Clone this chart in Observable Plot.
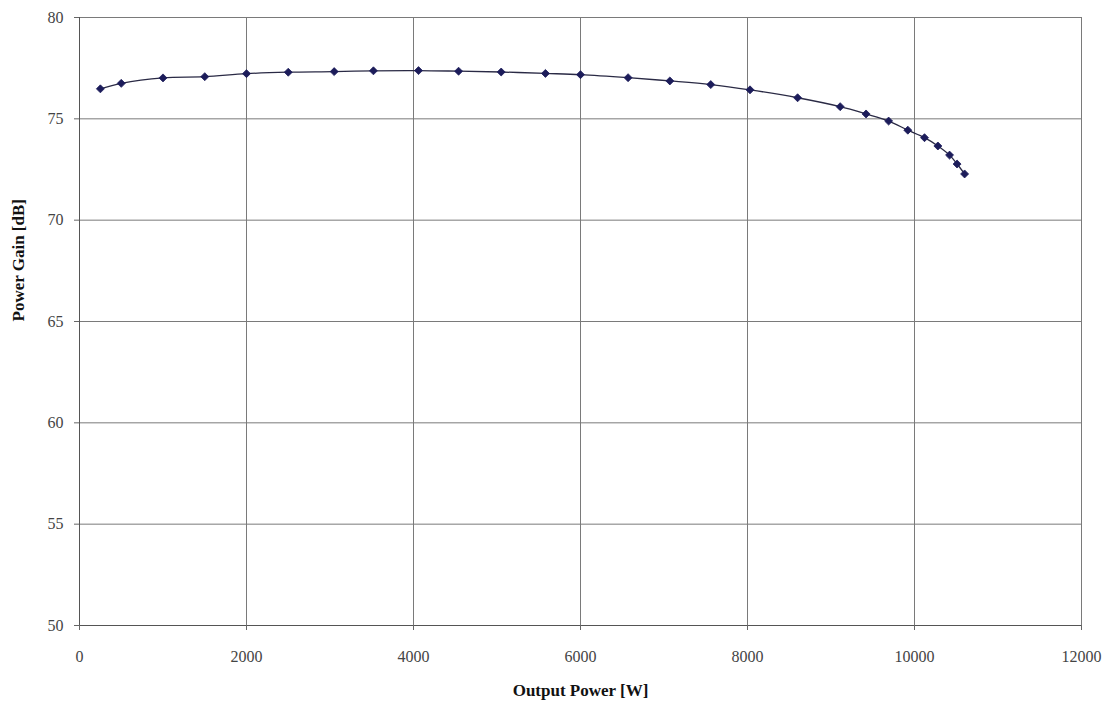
<!DOCTYPE html>
<html>
<head>
<meta charset="utf-8">
<script src="https://cdn.jsdelivr.net/npm/d3@7"></script>
<script src="https://cdn.jsdelivr.net/npm/@observablehq/plot@0.6"></script>
<style>
  html, body { margin: 0; padding: 0; background: #fff; }
  #chart svg { display: block; }
</style>
</head>
<body>
<div id="chart"></div>
<script>
const outputPower = [250, 500, 1000, 1500, 2000, 2500, 3050, 3520, 4060, 4540, 5050, 5580, 6000, 6570, 7070, 7560, 8030, 8600, 9110, 9420, 9690, 9920, 10120, 10280, 10420, 10510, 10600];
const powerGain   = [76.48, 76.75, 77.02, 77.08, 77.23, 77.30, 77.33, 77.37, 77.38, 77.35, 77.31, 77.24, 77.18, 77.03, 76.87, 76.69, 76.43, 76.04, 75.60, 75.24, 74.89, 74.44, 74.07, 73.66, 73.21, 72.77, 72.28];
const xTicks = [0, 2000, 4000, 6000, 8000, 10000, 12000];
const yTicks = [50, 55, 60, 65, 70, 75, 80];

const data = outputPower.map((x, i) => ({x, y: powerGain[i]}));

const chart = Plot.plot({
  width: 1117,
  height: 709,
  marginLeft: 79,
  marginRight: 36,
  marginTop: 17,
  marginBottom: 84,
  style: {fontFamily: "'Liberation Serif', 'DejaVu Serif', serif", fontSize: "16px", background: "#fff", color: "#222"},
  x: {domain: [0, 12000]},
  y: {domain: [50, 80]},
  marks: [
    Plot.gridX(xTicks, {stroke: "#7a7a7a", strokeOpacity: 1, strokeWidth: 1}),
    Plot.gridY(yTicks, {stroke: "#7a7a7a", strokeOpacity: 1, strokeWidth: 1}),
    Plot.ruleX([0], {stroke: "#555"}),
    Plot.ruleY([50], {stroke: "#555"}),
    Plot.axisX(xTicks, {tickSize: 5, tickPadding: 20, tickFormat: d => String(d), stroke: "#666", fill: "#444",
      label: "Output Power [W]", labelAnchor: "center", labelOffset: 70, labelArrow: "none"}),
    Plot.axisY(yTicks, {tickSize: 5, tickPadding: 11, tickFormat: d => String(d), stroke: "#666", fill: "#444",
      label: null}),
    Plot.text(["Power Gain [dB]"], {frameAnchor: "left", dx: -61, rotate: -90, fontWeight: "bold", fontSize: 17, fill: "#111"}),
    Plot.line(data, {x: "x", y: "y", curve: "catmull-rom", stroke: "#2a2a45", strokeWidth: 1.3}),
    Plot.dot(data, {x: "x", y: "y", symbol: "diamond2", r: 3.6, fill: "#1c1c5a", stroke: "#1c1c5a", strokeWidth: 0.8})
  ]
});
document.getElementById("chart").appendChild(chart);
chart.querySelectorAll("g[aria-label='x-axis label'] text, g[aria-label='x-axis label']").forEach(el => { el.setAttribute("font-weight", "bold"); el.setAttribute("fill", "#111"); el.setAttribute("font-size", "17"); });
</script>
</body>
</html>
